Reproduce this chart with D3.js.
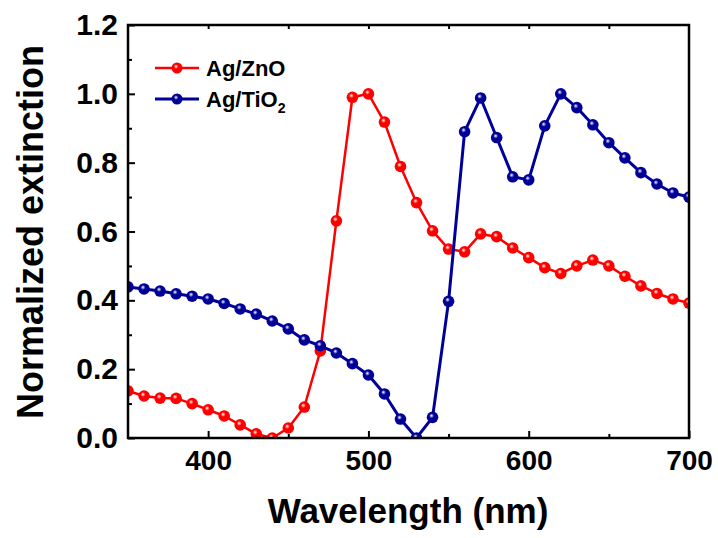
<!DOCTYPE html>
<html>
<head>
<meta charset="utf-8">
<script src="https://cdn.jsdelivr.net/npm/d3@7"></script>
<style>
  body { margin: 0; background: #fff; }
  text { font-family: "Liberation Sans", Arial, sans-serif; font-weight: bold; }
</style>
</head>
<body>
<div id="chart"></div>
<script>
// wavelengths, every 10 nm
var wavelength = d3.range(350, 701, 10);

// Ag/ZnO
var agZnO = [0.137, 0.122, 0.116, 0.115, 0.100, 0.082, 0.064, 0.038, 0.012, 0.0,
             0.029, 0.090, 0.253, 0.631, 0.990, 1.0, 0.918, 0.789, 0.684, 0.602,
             0.549, 0.541, 0.593, 0.585, 0.552, 0.524, 0.495, 0.478, 0.500, 0.517,
             0.500, 0.470, 0.442, 0.420, 0.404, 0.392];

// Ag/TiO2
var agTiO2 = [0.439, 0.433, 0.427, 0.419, 0.412, 0.404, 0.391, 0.375, 0.360, 0.340,
              0.317, 0.285, 0.268, 0.247, 0.216, 0.183, 0.128, 0.055, 0.0, 0.060,
              0.397, 0.890, 0.988, 0.873, 0.759, 0.750, 0.907, 1.0, 0.960, 0.910,
              0.858, 0.814, 0.771, 0.738, 0.712, 0.700];

var xTicks = [400, 500, 600, 700];
var yTicks = [0.0, 0.2, 0.4, 0.6, 0.8, 1.0, 1.2];

var width = 718, height = 538;
var pLeft = 128, pRight = 689, pTop = 25, pBottom = 438;

var svg = d3.select("#chart").append("svg")
    .attr("width", width)
    .attr("height", height);

var x = d3.scaleLinear().domain([350, 700]).range([pLeft, pRight]);
var y = d3.scaleLinear().domain([0, 1.2]).range([pBottom, pTop]);

// sphere-like marker gradients
var defs = svg.append("defs");
function addGrad(id, col) {
    var g = defs.append("radialGradient").attr("id", id)
        .attr("cx", "45%").attr("cy", "40%").attr("r", "60%")
        .attr("fx", "40%").attr("fy", "35%");
    g.append("stop").attr("offset", "0%").attr("stop-color", "#ffffff");
    g.append("stop").attr("offset", "35%").attr("stop-color", col);
    g.append("stop").attr("offset", "100%").attr("stop-color", col);
}
addGrad("gRed", "#ff0000");
addGrad("gBlue", "#000099");

var series = [
    { name: "Ag/ZnO", values: agZnO, color: "#ff0000", grad: "gRed", lw: 2.5 },
    { name: "Ag/TiO", values: agTiO2, color: "#000099", grad: "gBlue", lw: 3 }
];

defs.append("clipPath").attr("id", "clip").append("rect")
    .attr("x", pLeft).attr("y", pTop - 10).attr("width", pRight - pLeft).attr("height", pBottom - pTop + 10);

var plot = svg.append("g");

var line = d3.line()
    .x(function (d, i) { return x(wavelength[i]); })
    .y(function (d) { return y(d); });

series.forEach(function (s) {
    var g = plot.append("g").attr("clip-path", "url(#clip)");
    g.append("path")
        .datum(s.values)
        .attr("d", line)
        .attr("fill", "none")
        .attr("stroke", s.color)
        .attr("stroke-width", s.lw)
        .attr("stroke-linejoin", "round");
    g.selectAll("circle")
        .data(s.values)
        .enter().append("circle")
        .attr("cx", function (d, i) { return x(wavelength[i]); })
        .attr("cy", function (d) { return y(d); })
        .attr("r", 5.8)
        .attr("fill", "url(#" + s.grad + ")");
});

// axes
var axisW = 2.5;
var xb = svg.append("g").attr("transform", "translate(0," + pBottom + ")")
    .call(d3.axisBottom(x).tickValues(xTicks).tickSize(-7).tickPadding(12).tickSizeOuter(0));
var xbm = svg.append("g").attr("transform", "translate(0," + pBottom + ")")
    .call(d3.axisBottom(x).tickValues([450, 550, 650]).tickSize(-4).tickFormat("").tickSizeOuter(0));
var xt = svg.append("g").attr("transform", "translate(0," + pTop + ")")
    .call(d3.axisTop(x).tickValues([400, 450, 500, 550, 600, 650]).tickSize(-4).tickFormat("").tickSizeOuter(0));
var yl = svg.append("g").attr("transform", "translate(" + pLeft + ",0)")
    .call(d3.axisLeft(y).tickValues(yTicks).tickSize(-7).tickPadding(10).tickFormat(d3.format(".1f")).tickSizeOuter(0));
var ylm = svg.append("g").attr("transform", "translate(" + pLeft + ",0)")
    .call(d3.axisLeft(y).tickValues([0.1, 0.3, 0.5, 0.7, 0.9, 1.1]).tickSize(-4).tickFormat("").tickSizeOuter(0));

[xb, xbm, xt, yl, ylm].forEach(function (a) {
    a.select(".domain").remove();
    a.selectAll(".tick line").attr("stroke", "#000").attr("stroke-width", 2);
    a.selectAll("text").attr("fill", "#000").style("font-size", "28px");
});
yl.selectAll("text").style("font-size", "30px");

// frame
svg.append("rect")
    .attr("x", pLeft).attr("y", pTop)
    .attr("width", pRight - pLeft).attr("height", pBottom - pTop)
    .attr("fill", "none").attr("stroke", "#000").attr("stroke-width", axisW);

// axis titles
svg.append("text")
    .attr("x", 408).attr("y", 523)
    .attr("text-anchor", "middle")
    .style("font-size", "35px")
    .text("Wavelength (nm)");

svg.append("text")
    .attr("transform", "translate(43,232) rotate(-90)")
    .attr("text-anchor", "middle")
    .style("font-size", "36px")
    .text("Normalized extinction");

// legend
var legend = svg.append("g");
series.forEach(function (s, i) {
    var ly = 68 + i * 31;
    legend.append("line")
        .attr("x1", 155).attr("x2", 199).attr("y1", ly).attr("y2", ly)
        .attr("stroke", s.color).attr("stroke-width", s.lw);
    legend.append("circle")
        .attr("cx", 177).attr("cy", ly).attr("r", 5.5)
        .attr("fill", "url(#" + s.grad + ")");
    var t = legend.append("text")
        .attr("x", 206).attr("y", ly + 8)
        .style("font-size", "22px")
        .text(s.name);
    if (i === 1) {
        t.append("tspan").attr("dy", 6).style("font-size", "14px").text("2");
    }
});
</script>
</body>
</html>
